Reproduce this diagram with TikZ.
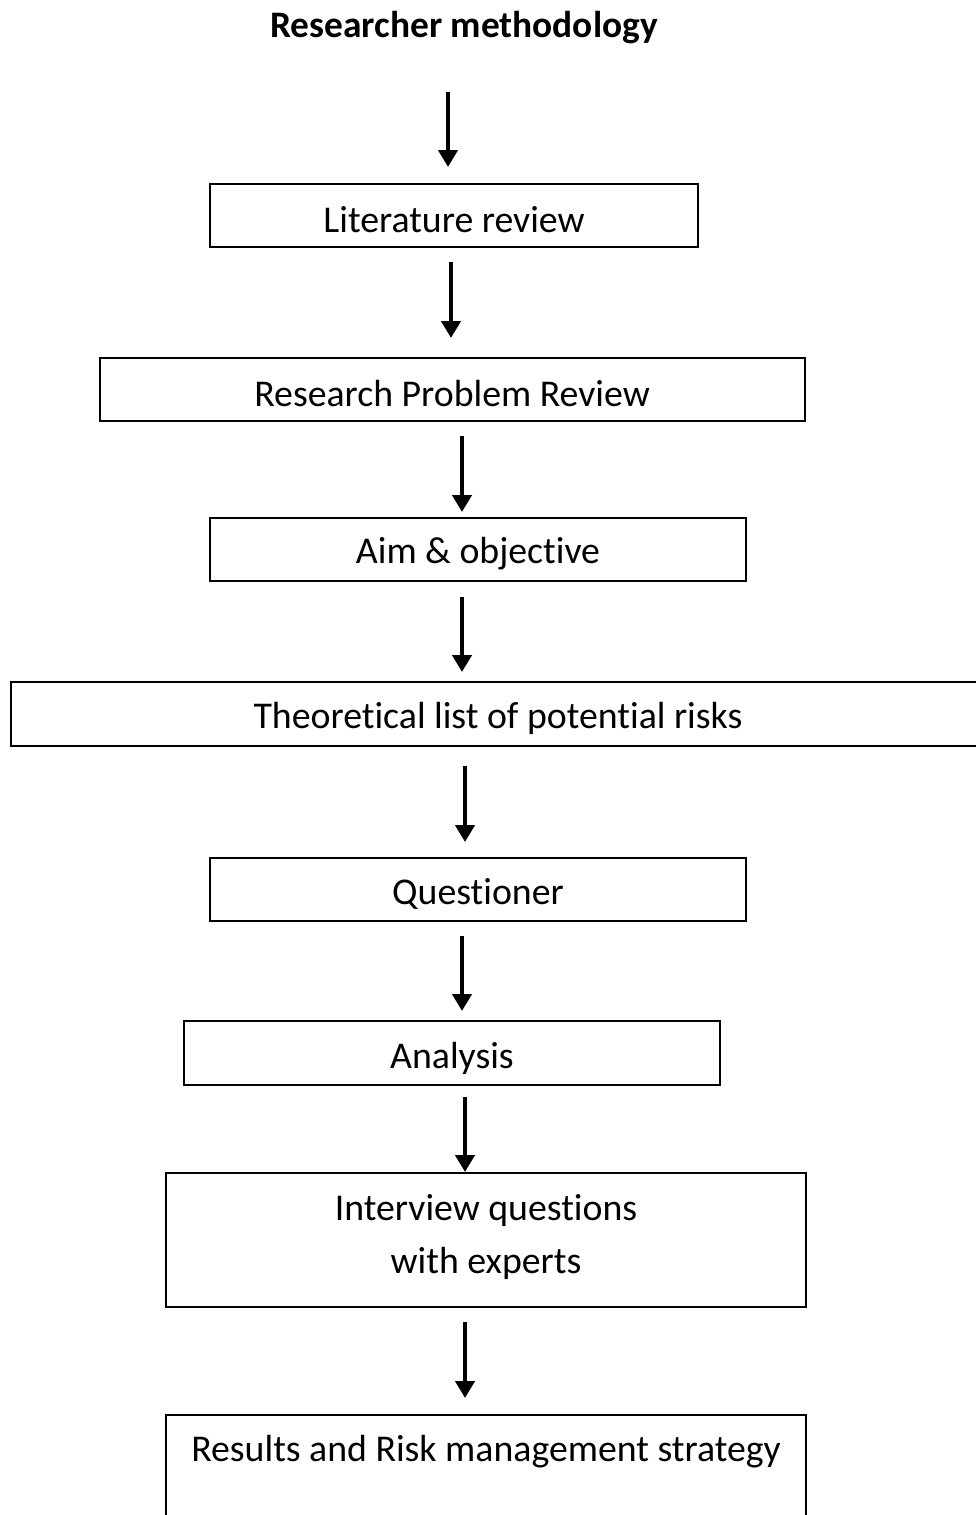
\documentclass[tikz,border=0pt]{standalone}
\usepackage{fontspec}
\setmainfont{Carlito}[Ligatures=NoCommon]
\usetikzlibrary{arrows.meta}
\begin{document}
\begin{tikzpicture}[x=1pt,y=-1pt,
  stepbox/.style={draw=black,line width=1.3pt},
  label/.style={font=\fontsize{37.8}{45}\selectfont,inner sep=0pt},
  flowarrow/.style={line width=4.6pt,-{Triangle[width=19pt,length=17pt]}},
  heading/.style={font=\fontsize{37.4}{45}\selectfont\bfseries,inner sep=0pt}]
\useasboundingbox (0,0) rectangle (976,1515);
\clip (0,0) rectangle (976,1515);

\node[heading] (title) at (464,28) {Researcher methodology};

\draw[stepbox] (210,184) rectangle (698,247);
\node[label] (lit) at (454,220) {Literature review};

\draw[stepbox] (100,358) rectangle (805,421);
\node[label] (rpr) at (452,394) {Research Problem Review};

\draw[stepbox] (210,518) rectangle (746,581);
\node[label] (aim) at (478,554) {Aim \& objective};

\draw[stepbox] (11,682) rectangle (990,746);
\node[label] (theo) at (498,718) {Theoretical list of potential risks};

\draw[stepbox] (210,858) rectangle (746,921);
\node[label] (quest) at (478,894) {Questioner};

\draw[stepbox] (184,1021) rectangle (720,1085);
\node[label] (ana) at (452,1058) {Analysis};

\draw[stepbox] (166,1173) rectangle (806,1307);
\node[label] (inter1) at (486,1211) {Interview questions};
\node[label] (inter2) at (486,1263) {with experts};

\draw[stepbox] (166,1415) rectangle (806,1540);
\node[label] (res) at (486,1452) {Results and Risk management strategy};

% arrow end points
\coordinate (a1s) at (448,92);   \coordinate (a1e) at (448,167);
\coordinate (a2s) at (451,262);  \coordinate (a2e) at (451,338);
\coordinate (a3s) at (462,436);  \coordinate (a3e) at (462,512);
\coordinate (a4s) at (462,597);  \coordinate (a4e) at (462,672);
\coordinate (a5s) at (465,766);  \coordinate (a5e) at (465,842);
\coordinate (a6s) at (462,936);  \coordinate (a6e) at (462,1011);
\coordinate (a7s) at (465,1097); \coordinate (a7e) at (465,1172);
\coordinate (a8s) at (465,1322); \coordinate (a8e) at (465,1398);

\foreach \i in {1,...,8} \draw[flowarrow] (a\i s) -- (a\i e);
\end{tikzpicture}
\end{document}
